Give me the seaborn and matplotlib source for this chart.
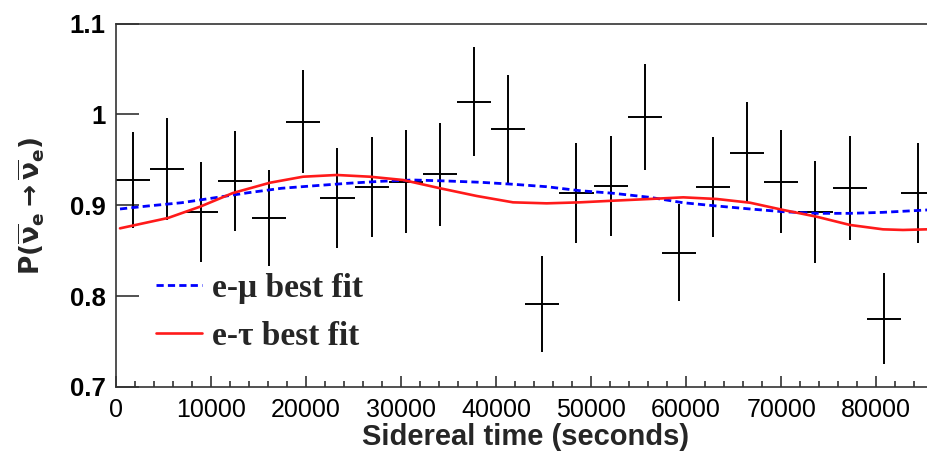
import numpy as np
import pandas as pd
import matplotlib
matplotlib.use("Agg")
import matplotlib.pyplot as plt
import seaborn as sns

# ---- data ----
bin_centers = [1795, 5385, 8975, 12566, 16156, 19746, 23336, 26926, 30516, 34107,
               37697, 41287, 44877, 48467, 52057, 55648, 59238, 62828, 66418, 70008,
               73598, 77189, 80779, 84369]
half_bin = 1795
prob = [0.928, 0.940, 0.893, 0.927, 0.886, 0.992, 0.908, 0.920, 0.926, 0.934,
        1.014, 0.984, 0.791, 0.914, 0.921, 0.997, 0.848, 0.920, 0.958, 0.926,
        0.893, 0.919, 0.775, 0.914]
prob_err = [0.053, 0.056, 0.055, 0.055, 0.053, 0.057, 0.055, 0.055, 0.057, 0.057,
            0.060, 0.059, 0.053, 0.055, 0.055, 0.058, 0.053, 0.055, 0.056, 0.057,
            0.056, 0.057, 0.050, 0.055]

mu_t = [473, 3417, 6960, 10462, 13963, 17475, 20976, 24477, 27989, 31280, 34823,
        38324, 41794, 45337, 48838, 52308, 56198, 59667, 63211, 66712, 70182,
        73725, 77226, 80695, 85322, 86164]
mu_fit = [0.8959, 0.8992, 0.9028, 0.9083, 0.9138, 0.9187, 0.9215, 0.9242, 0.9264,
          0.9278, 0.9267, 0.9253, 0.9231, 0.9204, 0.9160, 0.9132, 0.9087, 0.9028,
          0.8992, 0.8959, 0.8929, 0.8911, 0.8911, 0.8922, 0.8948, 0.8953]

tau_t = [473, 5520, 8884, 12354, 16244, 19714, 23257, 26758, 30228, 34118, 37977,
         41794, 45337, 48838, 52308, 56198, 59699, 63211, 66712, 70213, 73725,
         77226, 80695, 82798, 85322, 86164]
tau_fit = [0.8746, 0.8860, 0.8984, 0.9135, 0.9248, 0.9314, 0.9333, 0.9314, 0.9278,
           0.9187, 0.9102, 0.9032, 0.9021, 0.9032, 0.9050, 0.9069, 0.9087, 0.9069,
           0.9028, 0.8948, 0.8874, 0.8783, 0.8735, 0.8728, 0.8735, 0.8740]

x_ticks = [0, 10000, 20000, 30000, 40000, 50000, 60000, 70000, 80000]
x_ticklabels = ["0", "10000", "20000", "30000", "40000", "50000", "60000", "70000", "80000"]
y_ticks = [0.7, 0.8, 0.9, 1.0, 1.1]
y_ticklabels = ["0.7", "0.8", "0.9", "1", "1.1"]
legend_labels = ["e-\u03bc best fit", "e-\u03c4 best fit"]

# ---- style ----
sns.set_style("ticks")
plt.rcParams["font.family"] = ["Liberation Sans", "DejaVu Sans"]
plt.rcParams["mathtext.fontset"] = "dejavusans"

fig = plt.figure(figsize=(9.27, 4.57), dpi=100)
ax = fig.add_axes([115.5 / 927, 70 / 457, (935 - 115.5) / 927, 363.5 / 457])

df_mu = pd.DataFrame({"t": mu_t, "p": mu_fit})
df_tau = pd.DataFrame({"t": tau_t, "p": tau_fit})

ax.errorbar(bin_centers, prob, yerr=prob_err, xerr=half_bin, fmt="none",
            ecolor="black", elinewidth=1.4, capsize=0, zorder=2)
sns.lineplot(data=df_mu, x="t", y="p", ax=ax, color="#0000ff", lw=2.0,
             linestyle=(0, (2.6, 1.5)), label=legend_labels[0], zorder=3)
sns.lineplot(data=df_tau, x="t", y="p", ax=ax, color="#ff1a1a", lw=1.9,
             label=legend_labels[1], zorder=3)

ax.set_xlim(0, 86164)
ax.set_ylim(0.7, 1.1)

ax.set_xticks(x_ticks)
ax.set_xticklabels(x_ticklabels, fontsize=18)
ax.set_xticks(np.arange(0, 86164, 2000), minor=True)
ax.set_yticks(y_ticks)
ax.set_yticklabels(y_ticklabels, fontsize=18.5, fontweight="bold")

ax.tick_params(axis="x", which="major", direction="in", length=8, width=1.1,
               pad=8, colors="#222222", labelcolor="black")
ax.tick_params(axis="x", which="minor", direction="in", length=4, width=1.1,
               colors="#222222")
ax.tick_params(axis="y", which="major", direction="in", length=16.5, width=1.1,
               pad=7, colors="#222222", labelcolor="black")
ax.tick_params(axis="y", which="minor", left=False)

for s in ax.spines.values():
    s.set_color("#333333")
    s.set_linewidth(1.2)

ax.set_xlabel("Sidereal time (seconds)", fontsize=21, fontweight="bold")
ax.xaxis.set_label_coords(0.5, -0.098)
ax.set_ylabel(r"$\mathbf{P(\overline{\nu}_{e}\rightarrow\overline{\nu}_{e})}$",
              fontsize=19)
ax.yaxis.set_label_coords(-0.083, 0.5)

leg = ax.legend(loc="center left", bbox_to_anchor=(0.049, 0.205), frameon=False,
                prop={"family": "Liberation Serif", "weight": "bold", "size": 24},
                handlelength=1.4, handletextpad=0.3, labelspacing=0.5,
                borderpad=0, borderaxespad=0)

fig.savefig("out.png", dpi=100)
